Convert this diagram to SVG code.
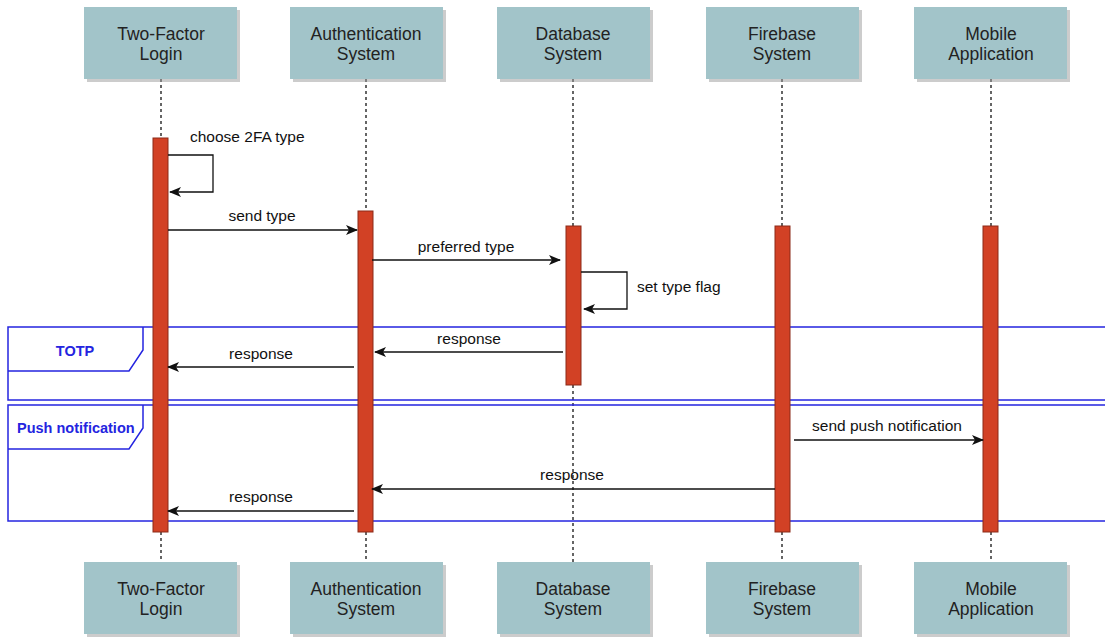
<svg xmlns="http://www.w3.org/2000/svg" width="1105" height="639" viewBox="0 0 1105 639">
<style>
.box{fill:#A2C4C9;}
.shadow{fill:#9a9a9a;opacity:0.5;}
.bt{font-family:"Liberation Sans",Arial,sans-serif;font-size:17.5px;fill:#222;text-anchor:middle;}
.life{stroke:#333;stroke-width:1.5;stroke-dasharray:3 3;fill:none;}
.bar{fill:#D24125;stroke:#8B2A18;stroke-width:1;}
.msg{stroke:#111;stroke-width:1.3;fill:none;marker-end:url(#arr);}
.ml{font-family:"Liberation Sans",Arial,sans-serif;font-size:15.5px;fill:#111;}
.frame{fill:none;stroke:#2424E0;stroke-width:1.5;}
.fl{font-family:"Liberation Sans",Arial,sans-serif;font-size:14.5px;font-weight:bold;fill:#2424E0;}
</style>
<defs>
<marker id="arr" markerWidth="12" markerHeight="10" refX="11" refY="5" orient="auto" markerUnits="userSpaceOnUse">
<path d="M0,0 L12,5 L0,10 L3,5 Z" fill="#111"/>
</marker>
</defs>
<rect width="1105" height="639" fill="#fff"/>

<g id="lifelines">
<path class="life" d="M161,79 V138 M161,532 V562"/>
<path class="life" d="M366,79 V211 M366,532 V562"/>
<path class="life" d="M573,79 V226 M573,385 V562"/>
<path class="life" d="M782,79 V226 M782,532 V562"/>
<path class="life" d="M991,79 V226 M991,532 V562"/>
</g>

<g id="frames">
<rect class="frame" x="8" y="327" width="1100" height="73"/>
<path class="frame" d="M8,371 H129 L143,350 V327"/>
<text class="fl" x="75" y="356" text-anchor="middle">TOTP</text>
<rect class="frame" x="8" y="405" width="1100" height="116"/>
<path class="frame" d="M8,449 H129 L143,428 V405"/>
<text class="fl" x="17" y="433">Push notification</text>
</g>

<g id="node-twofactor">
<rect class="shadow" x="87" y="10" width="153" height="72"/>
<rect class="box" x="84" y="7" width="153" height="72"/>
<text class="bt" x="161" y="40">Two-Factor</text>
<text class="bt" x="161" y="60">Login</text>
<rect class="bar" x="153" y="138" width="15" height="394"/>
<rect class="shadow" x="87" y="565" width="153" height="72"/>
<rect class="box" x="84" y="562" width="153" height="72"/>
<text class="bt" x="161" y="595">Two-Factor</text>
<text class="bt" x="161" y="615">Login</text>
</g>

<g id="node-auth">
<rect class="shadow" x="293" y="10" width="153" height="72"/>
<rect class="box" x="290" y="7" width="153" height="72"/>
<text class="bt" x="366" y="40">Authentication</text>
<text class="bt" x="366" y="60">System</text>
<rect class="bar" x="358" y="211" width="15" height="321"/>
<rect class="shadow" x="293" y="565" width="153" height="72"/>
<rect class="box" x="290" y="562" width="153" height="72"/>
<text class="bt" x="366" y="595">Authentication</text>
<text class="bt" x="366" y="615">System</text>
</g>

<g id="node-database">
<rect class="shadow" x="500" y="10" width="153" height="72"/>
<rect class="box" x="497" y="7" width="153" height="72"/>
<text class="bt" x="573" y="40">Database</text>
<text class="bt" x="573" y="60">System</text>
<rect class="bar" x="566" y="226" width="15" height="159"/>
<rect class="shadow" x="500" y="565" width="153" height="72"/>
<rect class="box" x="497" y="562" width="153" height="72"/>
<text class="bt" x="573" y="595">Database</text>
<text class="bt" x="573" y="615">System</text>
</g>

<g id="node-firebase">
<rect class="shadow" x="709" y="10" width="153" height="72"/>
<rect class="box" x="706" y="7" width="153" height="72"/>
<text class="bt" x="782" y="40">Firebase</text>
<text class="bt" x="782" y="60">System</text>
<rect class="bar" x="775" y="226" width="15" height="306"/>
<rect class="shadow" x="709" y="565" width="153" height="72"/>
<rect class="box" x="706" y="562" width="153" height="72"/>
<text class="bt" x="782" y="595">Firebase</text>
<text class="bt" x="782" y="615">System</text>
</g>

<g id="node-mobile">
<rect class="shadow" x="917" y="10" width="153" height="72"/>
<rect class="box" x="914" y="7" width="153" height="72"/>
<text class="bt" x="991" y="40">Mobile</text>
<text class="bt" x="991" y="60">Application</text>
<rect class="bar" x="983" y="226" width="15" height="306"/>
<rect class="shadow" x="917" y="565" width="153" height="72"/>
<rect class="box" x="914" y="562" width="153" height="72"/>
<text class="bt" x="991" y="595">Mobile</text>
<text class="bt" x="991" y="615">Application</text>
</g>

<g id="connectors">
<path class="msg" d="M168,155 H213 V192 H170"/>
<text class="ml" x="190" y="142">choose 2FA type</text>
<path class="msg" d="M168,230 H357"/>
<text class="ml" x="262" y="221" text-anchor="middle">send type</text>
<path class="msg" d="M372,260 H560"/>
<text class="ml" x="466" y="252" text-anchor="middle">preferred type</text>
<path class="msg" d="M581,272 H627 V309 H584"/>
<text class="ml" x="637" y="292">set type flag</text>
<path class="msg" d="M563,352 H375"/>
<text class="ml" x="469" y="344" text-anchor="middle">response</text>
<path class="msg" d="M354,367 H168"/>
<text class="ml" x="261" y="359" text-anchor="middle">response</text>
<path class="msg" d="M794,440 H983"/>
<text class="ml" x="887" y="431" text-anchor="middle">send push notification</text>
<path class="msg" d="M775,489 H372"/>
<text class="ml" x="572" y="480" text-anchor="middle">response</text>
<path class="msg" d="M354,511 H168"/>
<text class="ml" x="261" y="502" text-anchor="middle">response</text>
</g>
</svg>
